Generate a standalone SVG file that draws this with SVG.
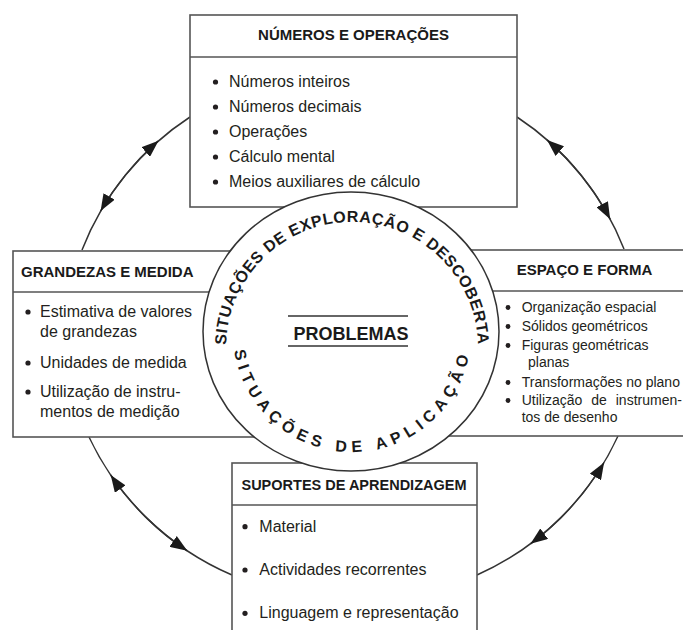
<svg xmlns="http://www.w3.org/2000/svg" width="683" height="630" viewBox="0 0 683 630">
<style>
.box{fill:#fff;stroke:#555;stroke-width:1.6}
.sep{stroke:#555;stroke-width:1.6;fill:none}
.hd{font-family:"Liberation Sans",Arial,sans-serif;font-weight:bold;font-size:15px;fill:#1a1a1a}
.it{font-family:"Liberation Sans",Arial,sans-serif;font-size:16px;fill:#231f20}
.its{font-family:"Liberation Sans",Arial,sans-serif;font-size:14px;fill:#231f20}
.bul{fill:#231f20}
.arc{fill:none;stroke:#333;stroke-width:1.5}
.ring{font-family:"Liberation Sans",Arial,sans-serif;font-weight:bold;font-size:16px;fill:#1a1a1a}
</style>
<defs>
<marker id="ah" viewBox="0 0 17 13" refX="17" refY="6.5" markerWidth="17" markerHeight="13" markerUnits="userSpaceOnUse" orient="auto">
<path d="M0,0 L17,6.5 L0,13 z" fill="#1a1a1a"/>
</marker>
<path id="upperPath" d="M233.6,391.1 A126,126 0 1 1 470.4,391.1"/>
<path id="lowerPath" d="M240.2,292.3 A119,119 0 1 0 463.8,292.3"/>
</defs>
<rect width="683" height="630" fill="#fff"/>

<g id="connectors">
<path class="arc" d="M190,117 A280,280 0 0 0 82,250"/>
<path class="arc" d="M125.6,174.9 A280,280 0 0 1 158.5,140.8" marker-end="url(#ah)"/>
<path class="arc" d="M125.6,174.9 A280,280 0 0 0 100.6,211.1" marker-end="url(#ah)"/>
<path class="arc" d="M517,117 A280,280 0 0 1 624,249"/>
<path class="arc" d="M582.3,176.8 A280,280 0 0 0 547,139.9" marker-end="url(#ah)"/>
<path class="arc" d="M582.3,176.8 A280,280 0 0 1 610.2,219.2" marker-end="url(#ah)"/>
<path class="arc" d="M618,436 A280,280 0 0 1 477,575"/>
<path class="arc" d="M571.7,506.3 A280,280 0 0 0 604.1,462.4" marker-end="url(#ah)"/>
<path class="arc" d="M571.7,506.3 A280,280 0 0 1 530.5,543.8" marker-end="url(#ah)"/>
<path class="arc" d="M232,575 A280,280 0 0 1 89,437"/>
<path class="arc" d="M145.3,516.6 A280,280 0 0 1 110.7,475" marker-end="url(#ah)"/>
<path class="arc" d="M145.3,516.6 A280,280 0 0 0 187.3,550.8" marker-end="url(#ah)"/>
</g>

<g id="numeros">
<rect class="box" x="190" y="15" width="327" height="192"/>
<line class="sep" x1="190" y1="57" x2="517" y2="57"/>
<text class="hd" x="353.5" y="40" text-anchor="middle">NÚMEROS E OPERAÇÕES</text>
<circle class="bul" cx="215.5" cy="82" r="2.6"/>
<circle class="bul" cx="215.5" cy="107" r="2.6"/>
<circle class="bul" cx="215.5" cy="132" r="2.6"/>
<circle class="bul" cx="215.5" cy="157" r="2.6"/>
<circle class="bul" cx="215.5" cy="182" r="2.6"/>
<text class="it" x="229" y="87">Números inteiros</text>
<text class="it" x="229" y="112">Números decimais</text>
<text class="it" x="229" y="137">Operações</text>
<text class="it" x="229" y="162">Cálculo mental</text>
<text class="it" x="229" y="187">Meios auxiliares de cálculo</text>
</g>

<g id="grandezas">
<rect class="box" x="13" y="251" width="260" height="186"/>
<line class="sep" x1="13" y1="292" x2="273" y2="292"/>
<text class="hd" x="21" y="277">GRANDEZAS E MEDIDA</text>
<circle class="bul" cx="28" cy="312" r="2.6"/>
<circle class="bul" cx="28" cy="363" r="2.6"/>
<circle class="bul" cx="28" cy="392" r="2.6"/>
<text class="it" x="40" y="317">Estimativa de valores</text>
<text class="it" x="40" y="337">de grandezas</text>
<text class="it" x="40" y="368">Unidades de medida</text>
<text class="it" x="40" y="397">Utilização de instru-</text>
<text class="it" x="40" y="417">mentos de medição</text>
</g>

<g id="espaco">
<rect class="box" x="430" y="250" width="270" height="186"/>
<line class="sep" x1="430" y1="291" x2="700" y2="291"/>
<text class="hd" x="516.7" y="275">ESPAÇO E FORMA</text>
<circle class="bul" cx="508" cy="307.5" r="2.4"/>
<circle class="bul" cx="508" cy="326.5" r="2.4"/>
<circle class="bul" cx="508" cy="345.5" r="2.4"/>
<circle class="bul" cx="508" cy="382.5" r="2.4"/>
<circle class="bul" cx="508" cy="400.5" r="2.4"/>
<text class="its" x="521.7" y="311.7">Organização espacial</text>
<text class="its" x="521.7" y="330.7">Sólidos geométricos</text>
<text class="its" x="521.7" y="350">Figuras geométricas</text>
<text class="its" x="528" y="366.7">planas</text>
<text class="its" x="521.7" y="386.7">Transformações no plano</text>
<text class="its" x="521.7" y="405" word-spacing="5">Utilização de instrumen-</text>
<text class="its" x="521.7" y="421.7">tos de desenho</text>
</g>

<g id="suportes">
<rect class="box" x="232" y="463" width="245" height="190"/>
<line class="sep" x1="232" y1="505" x2="477" y2="505"/>
<text class="hd" x="354" y="490" text-anchor="middle" style="font-size:14.5px">SUPORTES DE APRENDIZAGEM</text>
<circle class="bul" cx="245" cy="526.7" r="2.6"/>
<circle class="bul" cx="245" cy="570" r="2.6"/>
<circle class="bul" cx="245" cy="613.3" r="2.6"/>
<text class="it" x="259.3" y="531.7">Material</text>
<text class="it" x="259.3" y="575">Actividades recorrentes</text>
<text class="it" x="259.3" y="618.3">Linguagem e representação</text>
</g>

<g id="problemas">
<ellipse cx="351" cy="331.5" rx="148" ry="139.5" fill="#fff" stroke="#333" stroke-width="1.5"/>
<text class="ring" letter-spacing="0.6"><textPath href="#upperPath" startOffset="50%" text-anchor="middle">SITUAÇÕES DE EXPLORAÇÃO E DESCOBERTA</textPath></text>
<text class="ring" letter-spacing="5.4"><textPath href="#lowerPath" startOffset="50%" text-anchor="middle">SITUAÇÕES DE APLICAÇÃO</textPath></text>
<line x1="288" y1="316" x2="408" y2="316" stroke="#333" stroke-width="1.5"/>
<line x1="288" y1="346" x2="408" y2="346" stroke="#333" stroke-width="1.5"/>
<text class="hd" x="351" y="340" text-anchor="middle" style="font-size:18px">PROBLEMAS</text>
</g>
</svg>
